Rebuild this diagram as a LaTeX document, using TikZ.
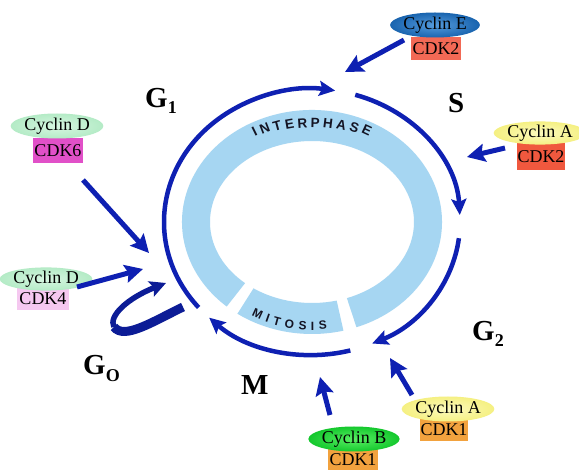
\documentclass[tikz,border=0pt]{standalone}
\usepackage{fontspec}
\setmainfont{Liberation Serif}
\setsansfont{Liberation Sans}
\usetikzlibrary{shapes.geometric,arrows.meta,calc}
\definecolor{cycblue}{RGB}{14,32,178}
\definecolor{loopblue}{RGB}{12,28,150}
\definecolor{bandblue}{RGB}{166,214,242}
\definecolor{lettercol}{RGB}{20,20,35}
\definecolor{cdkred}{RGB}{242,105,85}
\definecolor{cdkredb}{RGB}{240,88,62}
\definecolor{cdkmag}{RGB}{225,80,200}
\definecolor{cdkpink}{RGB}{245,200,240}
\definecolor{cdkorange}{RGB}{242,162,62}
\definecolor{cycEin}{RGB}{85,155,220}
\definecolor{cycEout}{RGB}{25,100,175}
\definecolor{cycAin}{RGB}{252,250,190}
\definecolor{cycAout}{RGB}{245,240,130}
\definecolor{cycDin}{RGB}{215,246,225}
\definecolor{cycDout}{RGB}{180,235,198}
\definecolor{cycBin}{RGB}{90,238,100}
\definecolor{cycBout}{RGB}{20,200,45}
\begin{document}
\begin{tikzpicture}[x=1pt,y=1pt,
  cyc/.style={ellipse, minimum width=80pt, minimum height=25pt, inner sep=0pt,
    font=\fontsize{18}{19}\selectfont, text=black},
  cdk/.style={rectangle, minimum width=50pt, minimum height=23pt, inner sep=0pt,
    font=\fontsize{18}{19}\selectfont, text=black},
  phase/.style={font=\fontsize{29}{30}\selectfont\bfseries, inner sep=0pt, anchor=base west},
  cycarrow/.style={draw=cycblue, line width=5pt, -{Stealth[length=18pt,width=18pt,inset=3pt]}},
  arcarrow/.style={draw=cycblue, line width=4.5pt, -{Stealth[length=16pt,width=15pt,inset=3pt]}},
  bandletter/.style={font=\sffamily\bfseries\fontsize{13.5}{14}\selectfont, text=lettercol, inner sep=0pt},
  mitletter/.style={font=\sffamily\bfseries\fontsize{12}{12}\selectfont, text=lettercol, inner sep=0pt},
]
\useasboundingbox (0,0) rectangle (579,-470);
\fill[white] (0,0) rectangle (579,-470);
\coordinate (C) at (312,-222);

% light blue ring: interphase and mitosis
\fill[bandblue] ($(C)+(-70:130pt and 112pt)$) arc[start angle=-70, end angle=229, x radius=130pt, y radius=112pt]
  -- ($(C)+(229:102pt and 81pt)$) arc[start angle=229, end angle=-70, x radius=102pt, y radius=81pt] -- cycle;
\fill[bandblue] ($(C)+(235:130pt and 112pt)$) arc[start angle=235, end angle=284, x radius=130pt, y radius=112pt]
  -- ($(C)+(284:102pt and 81pt)$) arc[start angle=284, end angle=235, x radius=102pt, y radius=81pt] -- cycle;

% INTERPHASE letters (x offset from centre / letter)
\foreach \dx/\l in {-57.5/I,-47.3/N,-34.75/T,-22.6/E,-9.7/R,3.2/P,16.1/H,29.4/A,42.3/S,54.8/E}{
  \pgfmathsetmacro\tb{acos(\dx/114)}
  \pgfmathsetmacro\r{atan2(-97*cos(\tb),114*sin(\tb))}
  \pgfmathsetmacro\yy{99*sqrt(1-(\dx/145)^2)}
  \node[bandletter, rotate=\r] at ($(C)+(\dx,\yy)$) {\l};
}
% MITOSIS letters
\foreach \t/\l in {242.5/M,248.0/I,252.8/T,259.0/O,265.4/S,270.3/I,275.3/S}{
  \pgfmathsetmacro\r{atan2(104*cos(\t),-118*sin(\t))}
  \node[mitletter, rotate=\r] at ($(C)+(\t:118pt and 104pt)$) {\l};
}

% cycle arcs
\draw[arcarrow] ($(C)+(220:148pt and 133pt)$) arc[start angle=220, end angle=81, x radius=148pt, y radius=133pt];
\draw[arcarrow] ($(C)+(73:148pt and 133pt)$) arc[start angle=73, end angle=3, x radius=148pt, y radius=133pt];
\draw[arcarrow] ($(C)+(-7:148pt and 133pt)$) arc[start angle=-7, end angle=-66, x radius=148pt, y radius=133pt];
\draw[arcarrow] ($(C)+(-75:148pt and 133pt)$) arc[start angle=-75, end angle=-134, x radius=148pt, y radius=133pt];

% G0 loop
\coordinate (g0s) at (183,-307);
\coordinate (g0m) at (114,-327);
\coordinate (g0e) at (166,-283);
\draw[loopblue, line width=5.5pt, -{Stealth[length=16pt,width=16pt,inset=3pt]}]
  (g0m) .. controls (108,-316) and (128,-298) .. (g0e);
\draw[loopblue, line width=9pt] (g0s) .. controls (152,-322) and (124,-340) .. (g0m);

% phase labels
\node[phase] (g1) at (145,-108) {G\raisebox{-6pt}{\fontsize{18}{18}\selectfont 1}};
\node[phase] (s) at (448,-113) {S};
\node[phase] (g2) at (472,-341) {G\raisebox{-6pt}{\fontsize{18}{18}\selectfont 2}};
\node[phase] (m) at (241,-395) {M};
\node[phase] (g0) at (83,-375) {G\raisebox{-7pt}{\fontsize{18}{18}\selectfont O}};

% cyclin / CDK complexes
\node[cdk, fill=cdkred] (cdk2e) at (436,-49) {CDK2};
\node[cyc, shade, inner color=cycEin, outer color=cycEout] (cycE) at (435,-25) {Cyclin E};

\node[cdk, fill=cdkredb, minimum width=48pt, minimum height=27pt] (cdk2a) at (541,-157) {CDK2};
\node[cyc, shade, inner color=cycAin, outer color=cycAout, minimum width=76pt, minimum height=22pt] (cycA1) at (540,-133) {Cyclin A};

\node[cdk, fill=cdkmag, minimum height=25pt] (cdk6) at (58,-151) {CDK6};
\node[cyc, shade, inner color=cycDin, outer color=cycDout, minimum width=78pt] (cycD6) at (57,-126) {Cyclin D};

\node[cdk, fill=cdkpink, minimum width=52pt, minimum height=22pt] (cdk4) at (43,-299) {CDK4};
\node[cyc, shade, inner color=cycDin, outer color=cycDout, minimum width=78pt, minimum height=22pt] (cycD4) at (46,-279) {Cyclin D};

\node[cdk, fill=cdkorange, minimum height=24pt] (cdk1b) at (353,-460) {CDK1};
\node[cyc, shade, inner color=cycBin, outer color=cycBout] (cycB) at (354,-439) {Cyclin B};

\node[cdk, fill=cdkorange, minimum width=48pt, minimum height=22pt] (cdk1a) at (444,-430) {CDK1};
\node[cyc, shade, inner color=cycAin, outer color=cycAout, minimum height=25pt] (cycA2) at (448,-409) {Cyclin A};

% activation arrows
\coordinate (eT) at (404,-40);   \coordinate (eH) at (345,-72);
\coordinate (aT) at (505,-148);  \coordinate (aH) at (467,-157);
\coordinate (d6T) at (83,-180);  \coordinate (d6H) at (149,-253);
\coordinate (d4T) at (77,-287);  \coordinate (d4H) at (143,-269);
\coordinate (bT) at (330,-415);  \coordinate (bH) at (320,-377);
\coordinate (a2T) at (412,-395); \coordinate (a2H) at (390,-358);
\draw[cycarrow] (eT) -- (eH);
\draw[cycarrow] (aT) -- (aH);
\draw[cycarrow] (d6T) -- (d6H);
\draw[cycarrow] (d4T) -- (d4H);
\draw[cycarrow] (bT) -- (bH);
\draw[cycarrow] (a2T) -- (a2H);
\end{tikzpicture}
\end{document}
